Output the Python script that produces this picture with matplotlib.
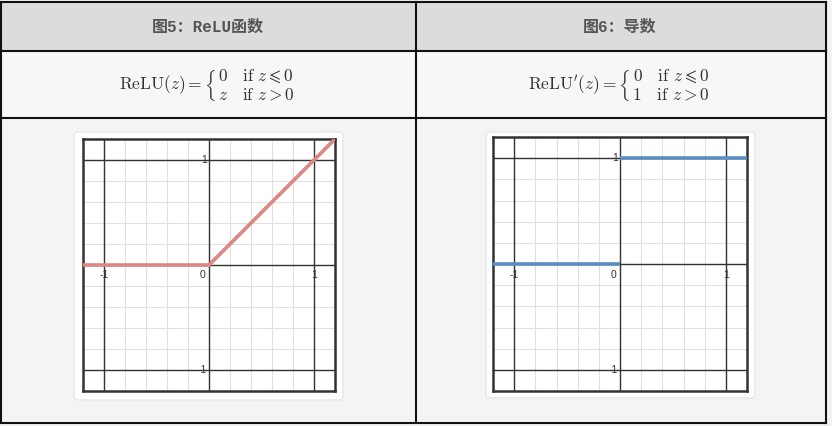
import numpy as np
import matplotlib
matplotlib.use("Agg")
import matplotlib.pyplot as plt
from matplotlib.patches import Rectangle, FancyBboxPatch

plt.rcParams['mathtext.fontset'] = 'cm'

# data
titles = ['图5：ReLU函数', '图6：导数']
formulas = [
    r'$\mathrm{ReLU}(z) = \left\{\,\genfrac{}{}{0}{0}{0\quad \mathrm{if}\ z \leqslant 0}{z\quad \mathrm{if}\ z > 0}\right.$',
    r"$\mathrm{ReLU}'(z) = \left\{\,\genfrac{}{}{0}{0}{0\quad \mathrm{if}\ z \leqslant 0}{1\quad \mathrm{if}\ z > 0}\right.$",
]
relu_x = [-1.2, 0, 1.2]
relu_y = [0, 0, 1.2]
deriv_left_x = [-1.2, 0]
deriv_left_y = [0, 0]
deriv_right_x = [0, 1.2]
deriv_right_y = [1, 1]
major_ticks = [-1, 0, 1]
x_labels = ['-1', '0', '1']
y_ticks = [-1, 1]
y_labels = ['-1', '1']

W, H = 832, 426
fig = plt.figure(figsize=(W / 100, H / 100), dpi=100)
bg = fig.add_axes([0, 0, 1, 1])
bg.set_xlim(0, W)
bg.set_ylim(H, 0)
bg.axis('off')

# table cells
bg.add_patch(Rectangle((0, 0), W, H, color='#f2f2f2', zorder=0))
bg.add_patch(Rectangle((1, 2), 825, 49, color='#dcdcdc', zorder=1))
bg.add_patch(Rectangle((1, 51), 825, 67, color='#f7f7f7', zorder=1))
bg.add_patch(Rectangle((1, 118), 825, 305, color='#f4f4f4', zorder=1))
for yy in [2, 51, 118, 423]:
    bg.plot([1, 826], [yy, yy], color='#111111', lw=1.5, zorder=3)
for xx in [1, 416, 826]:
    bg.plot([xx, xx], [2, 423], color='#111111', lw=1.5, zorder=3)

# header text
for cx, t in zip([208, 620], titles):
    bg.text(cx, 27, t, ha='center', va='center', fontsize=11.5, fontweight='bold',
            color='#555555', family=['Liberation Mono', 'Noto Sans CJK SC'], zorder=4)
for cx, f in zip([207, 619], formulas):
    bg.text(cx, 86, f, ha='center', va='center', fontsize=12.5, color='#333333', zorder=4)

# cards behind plots
for (x0, y0, x1, y1) in [(74, 132, 343, 400), (486, 132, 755, 398)]:
    bg.add_patch(FancyBboxPatch((x0, y0), x1 - x0, y1 - y0,
                                boxstyle='round,pad=0,rounding_size=4',
                                fc='white', ec='#e6e6e6', lw=1, zorder=2))


def make_plot(px0, py0, px1, py1):
    ax = fig.add_axes([px0 / W, 1 - py1 / H, (px1 - px0) / W, (py1 - py0) / H])
    ax.set_xlim(-1.2, 1.2)
    ax.set_ylim(-1.2, 1.2)
    ax.set_xticks(np.arange(-1.2, 1.21, 0.2), minor=True)
    ax.set_yticks(np.arange(-1.2, 1.21, 0.2), minor=True)
    ax.set_xticks([])
    ax.set_yticks([])
    ax.grid(which='minor', color='#e0e0e0', lw=0.8, zorder=0.5)
    ax.set_axisbelow(True)
    ax.tick_params(which='both', length=0)
    for v in major_ticks:
        ax.axvline(v, color='#333333', lw=1.0, zorder=2)
        ax.axhline(v, color='#333333', lw=1.0, zorder=2)
    for s in ax.spines.values():
        s.set_color('#333333')
        s.set_linewidth(1.8)
    for v, lab in zip(major_ticks, x_labels):
        dx = -0.06 if v == 0 else 0.0
        ax.text(v + dx, -0.1, lab, ha='center', va='center', fontsize=7.5,
                color='#333333', family='Liberation Sans', zorder=5)
    for v, lab in zip(y_ticks, y_labels):
        ax.text(-0.02, v, lab, ha='right', va='center', fontsize=7.5,
                color='#333333', family='Liberation Sans', zorder=5)
    return ax


ax1 = make_plot(83, 139, 335, 391)
ax1.plot(relu_x, relu_y, color='#de8585', lw=2.6, solid_capstyle='butt', zorder=4)

ax2 = make_plot(493, 137, 747, 391)
ax2.plot(deriv_left_x, deriv_left_y, color='#5b8ec4', lw=2.6, solid_capstyle='butt', zorder=4)
ax2.plot(deriv_right_x, deriv_right_y, color='#5b8ec4', lw=2.6, solid_capstyle='butt', zorder=4)

fig.savefig('out.png', dpi=100)
